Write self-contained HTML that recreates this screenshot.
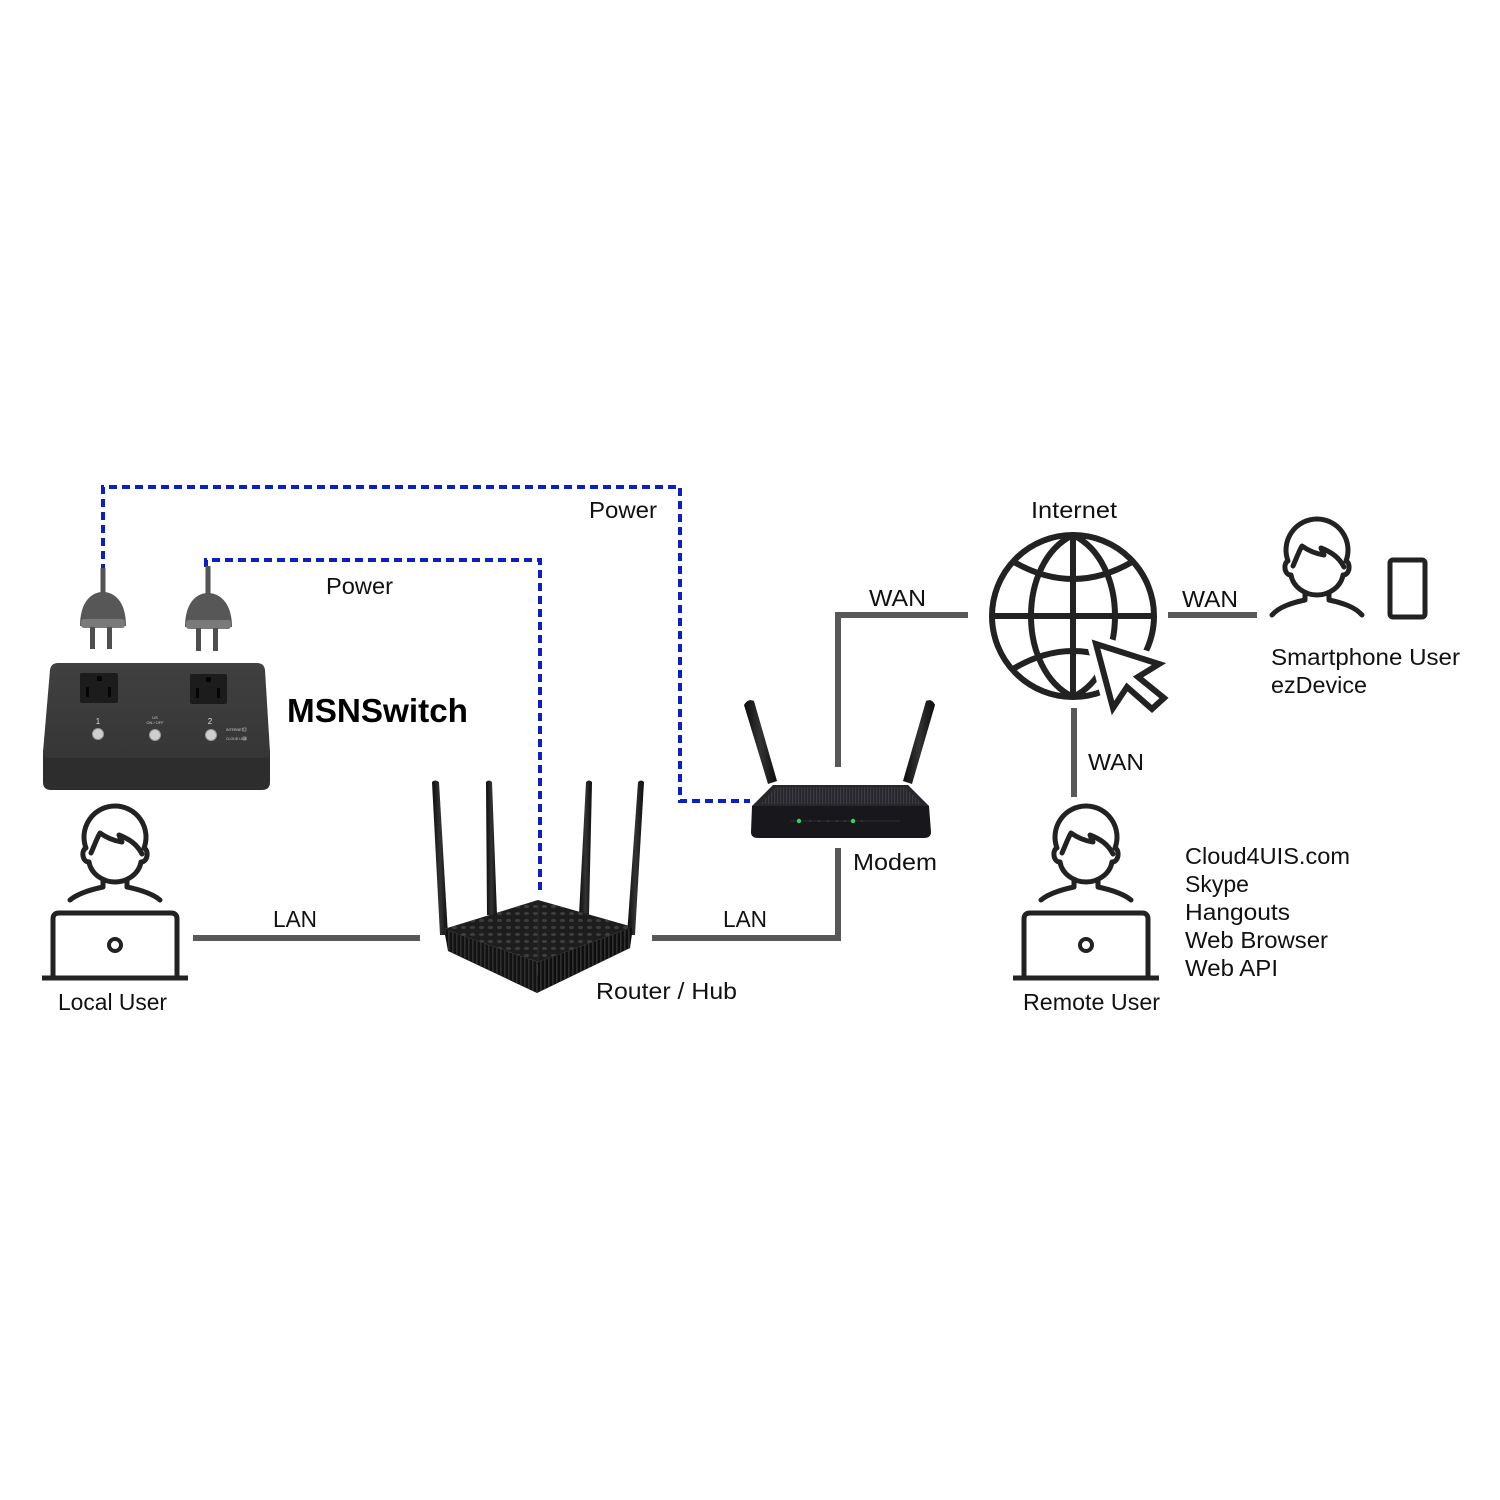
<!DOCTYPE html>
<html>
<head>
<meta charset="utf-8">
<style>
html,body{margin:0;padding:0;background:#fff;}
svg{display:block;}
text{font-family:"Liberation Sans",Arial,sans-serif;fill:#111;}
</style>
</head>
<body>
<svg width="1500" height="1500" viewBox="0 0 1500 1500" xmlns="http://www.w3.org/2000/svg">
<defs>
  <pattern id="dots" x="0" y="0" width="9" height="7" patternUnits="userSpaceOnUse">
    <ellipse cx="4.5" cy="3.5" rx="2.6" ry="1.6" fill="#3d3d3d"/>
  </pattern>
  <pattern id="ribs" x="0" y="0" width="4" height="10" patternUnits="userSpaceOnUse">
    <rect x="0" y="0" width="1.6" height="10" fill="#2e2e2e"/>
  </pattern>
  <pattern id="mribs" x="0" y="0" width="3" height="10" patternUnits="userSpaceOnUse">
    <rect x="0" y="0" width="1.2" height="10" fill="#3a3a40"/>
  </pattern>
  <linearGradient id="antg" x1="0" x2="1" y1="0" y2="0">
    <stop offset="0" stop-color="#0c0c0c"/>
    <stop offset="0.5" stop-color="#333"/>
    <stop offset="1" stop-color="#0c0c0c"/>
  </linearGradient>
  <linearGradient id="boxtop" x1="0" x2="0" y1="0" y2="1">
    <stop offset="0" stop-color="#404040"/>
    <stop offset="1" stop-color="#363636"/>
  </linearGradient>
</defs>

<!-- Blue dashed power lines -->
<path d="M103,572 V487 H680 V801 H750" fill="none" stroke="#0b1fc2" stroke-width="4" stroke-dasharray="8 5"/>
<path d="M206,567 V560 H540 V892" fill="none" stroke="#0b1fc2" stroke-width="4" stroke-dasharray="8 5"/>

<!-- Gray connectors -->
<g stroke="#585858" stroke-width="6" fill="none">
  <path d="M193,938 H420"/>
  <path d="M652,938 H838 V848"/>
  <path d="M838,767 V615 H968"/>
  <path d="M1168,615 H1257"/>
  <path d="M1074,708 V797"/>
</g>

<!-- Plugs -->
<g>
  <line x1="103" y1="568" x2="103" y2="598" stroke="#555" stroke-width="5"/>
  <path d="M80,626 C80,601 92,592 103,592 C114,592 126,601 126,626 Z" fill="#575757"/>
  <rect x="81" y="619" width="44" height="9" rx="3" fill="#7a7a7a"/>
  <rect x="90" y="627" width="5" height="22" fill="#4f4f4f"/>
  <rect x="107" y="627" width="5" height="22" fill="#4f4f4f"/>

  <line x1="208" y1="566" x2="208" y2="598" stroke="#555" stroke-width="5"/>
  <path d="M185,627 C185,602 197,593 208,593 C219,593 232,602 232,627 Z" fill="#575757"/>
  <rect x="186" y="620" width="45" height="9" rx="3" fill="#7a7a7a"/>
  <rect x="196" y="628" width="5" height="23" fill="#4f4f4f"/>
  <rect x="213" y="628" width="5" height="23" fill="#4f4f4f"/>
</g>

<!-- MSNSwitch box -->
<g>
  <path d="M43,750 L270,750 L270,782 Q270,790 262,790 H51 Q43,790 43,782 Z" fill="#2d2d2d"/>
  <path d="M58,663 H257 Q264,663 265,670 L270,752 Q270,758 263,758 H50 Q43,758 43,752 L50,670 Q51,663 58,663 Z" fill="url(#boxtop)"/>
  <rect x="80" y="673" width="38" height="30" rx="2" fill="#1c1c1c"/>
  <rect x="97" y="676" width="5" height="5" rx="1" fill="#050505"/>
  <rect x="86" y="687" width="3" height="10" fill="#050505"/>
  <rect x="108" y="687" width="3" height="10" fill="#050505"/>
  <rect x="190" y="674" width="37" height="30" rx="2" fill="#1c1c1c"/>
  <rect x="206" y="677" width="5" height="5" rx="1" fill="#050505"/>
  <rect x="196" y="688" width="3" height="10" fill="#050505"/>
  <rect x="217" y="688" width="3" height="10" fill="#050505"/>
  <text x="98" y="724" font-size="8" text-anchor="middle" style="fill:#ddd">1</text>
  <text x="210" y="724" font-size="8" text-anchor="middle" style="fill:#ddd">2</text>
  <text x="155" y="719" font-size="4" text-anchor="middle" style="fill:#ccc">US</text>
  <text x="155" y="724" font-size="4" text-anchor="middle" style="fill:#ccc">ON / OFF</text>
  <circle cx="98" cy="734" r="5.5" fill="#cfcfcf" stroke="#999" stroke-width="1"/>
  <circle cx="155" cy="735" r="5.5" fill="#cfcfcf" stroke="#999" stroke-width="1"/>
  <circle cx="211" cy="735" r="5.5" fill="#cfcfcf" stroke="#999" stroke-width="1"/>
  <text x="226" y="731" font-size="3.5" style="fill:#ccc">INTERNET</text>
  <text x="226" y="740" font-size="3.5" style="fill:#ccc">CLOUD LINK</text>
  <rect x="243" y="728" width="3" height="3" fill="none" stroke="#aaa" stroke-width="0.6"/>
  <rect x="243" y="737" width="3" height="3" fill="none" stroke="#aaa" stroke-width="0.6"/>
</g>
<text x="287" y="722" font-size="33" font-weight="bold" textLength="181" lengthAdjust="spacingAndGlyphs" style="fill:#000">MSNSwitch</text>

<!-- Router / Hub -->
<g>
  <path d="M432,782 Q435,779 439,782 L448,935 L440,935 Z" fill="url(#antg)"/>
  <path d="M486,782 Q489,779 492,782 L497,915 L487,915 Z" fill="url(#antg)"/>
  <path d="M586,782 Q589,779 592,782 L589,915 L579,915 Z" fill="url(#antg)"/>
  <path d="M638,782 Q641,779 644,782 L635,935 L627,935 Z" fill="url(#antg)"/>
  <!-- side faces -->
  <path d="M444,929 L538,962 L537,993 L448,951 Z" fill="#121212"/>
  <path d="M444,929 L538,962 L537,993 L448,951 Z" fill="url(#ribs)"/>
  <path d="M633,927 L538,962 L537,993 L630,948 Z" fill="#0f0f0f"/>
  <path d="M633,927 L538,962 L537,993 L630,948 Z" fill="url(#ribs)"/>
  <!-- top face -->
  <path d="M444,929 L538,900 L633,927 L538,962 Z" fill="#1d1d1d"/>
  <path d="M444,929 L538,900 L633,927 L538,962 Z" fill="url(#dots)"/>
  <line x1="538" y1="903" x2="538" y2="960" stroke="#2a2a2a" stroke-width="1"/>
</g>

<!-- Modem -->
<g>
  <path d="M744,705 Q748,698 754,701 L777,781 L768,784 Z" fill="url(#antg)"/>
  <path d="M926,701 Q932,698 935,705 L912,784 L903,781 Z" fill="url(#antg)"/>
  <path d="M752,806 L929,806 L931,832 Q931,838 924,838 H758 Q751,838 751,832 Z" fill="#18181c"/>
  <path d="M773,785 H908 L929,806 H752 Z" fill="#26262b"/>
  <path d="M777,787 H905 L922,804 H760 Z" fill="url(#mribs)"/>
  <line x1="790" y1="821" x2="900" y2="821" stroke="#2c2c32" stroke-width="1"/>
  <circle cx="799" cy="821" r="2.2" fill="#35d060"/>
  <circle cx="853" cy="821" r="2.2" fill="#35d060"/>
  <g fill="#3a3a40">
    <circle cx="810" cy="821" r="1"/><circle cx="819" cy="821" r="1"/><circle cx="828" cy="821" r="1"/>
    <circle cx="837" cy="821" r="1"/><circle cx="845" cy="821" r="1"/><circle cx="862" cy="821" r="1"/>
  </g>
</g>

<!-- Globe -->
<g fill="none" stroke="#222" stroke-width="6">
  <circle cx="1073" cy="616" r="81"/>
  <path d="M1073,535 C1017,562 1017,670 1073,697"/>
  <path d="M1073,535 C1129,562 1129,670 1073,697"/>
  <line x1="1073" y1="535" x2="1073" y2="697"/>
  <line x1="992" y1="616" x2="1154" y2="616"/>
  <path d="M1014,562 Q1073,596 1132,562"/>
  <path d="M1013,669 Q1073,633 1133,669"/>
</g>
<path d="M1096,644 L1159,664 L1138,677 L1164,698 L1152,709 L1127,687 L1113,708 Z" fill="#fff" stroke="#fff" stroke-width="18" stroke-linejoin="round"/>
<path d="M1096,644 L1159,664 L1138,677 L1164,698 L1152,709 L1127,687 L1113,708 Z" fill="#fff" stroke="#222" stroke-width="6" stroke-linejoin="miter"/>

<!-- Person icons -->
<g fill="none" stroke="#222" stroke-width="5" stroke-linecap="round" stroke-linejoin="round">
  <g transform="translate(115,836)">
    <path d="M-29,12 A31,31 0 1 1 29,12 C34,14 33,26 26,26 C24,38 12,46 0,46 C-12,46 -24,38 -26,26 C-33,26 -34,14 -29,12 Z"/>
    <path d="M-24,17 C-20,8 -18,2 -15,-3 C-8,2 0,5 7,6 L4,-1 C14,3 22,8 27,18"/>
    <path d="M-12,45 V51 C-26,54 -38,58 -45,64 M12,45 V51 C26,54 38,58 45,64"/>
    <path d="M-62,141 V83 Q-62,77 -56,77 H56 Q62,77 62,83 V141"/>
    <path d="M-73,142 H73" stroke-linecap="butt"/>
    <circle cx="0" cy="109" r="6" stroke-width="4"/>
  </g>
  <g transform="translate(1086,836)">
    <path d="M-29,12 A31,31 0 1 1 29,12 C34,14 33,26 26,26 C24,38 12,46 0,46 C-12,46 -24,38 -26,26 C-33,26 -34,14 -29,12 Z"/>
    <path d="M-24,17 C-20,8 -18,2 -15,-3 C-8,2 0,5 7,6 L4,-1 C14,3 22,8 27,18"/>
    <path d="M-12,45 V51 C-26,54 -38,58 -45,64 M12,45 V51 C26,54 38,58 45,64"/>
    <path d="M-62,141 V83 Q-62,77 -56,77 H56 Q62,77 62,83 V141"/>
    <path d="M-73,142 H73" stroke-linecap="butt"/>
    <circle cx="0" cy="109" r="6" stroke-width="4"/>
  </g>
  <g transform="translate(1317,549)">
    <path d="M-29,12 A31,31 0 1 1 29,12 C34,14 33,26 26,26 C24,38 12,46 0,46 C-12,46 -24,38 -26,26 C-33,26 -34,14 -29,12 Z"/>
    <path d="M-24,17 C-20,8 -18,2 -15,-3 C-8,2 0,5 7,6 L4,-1 C14,3 22,8 27,18"/>
    <path d="M-12,45 V51 C-26,54 -38,58 -45,66 M12,45 V51 C26,54 38,58 45,66"/>
  </g>
  <rect x="1390" y="560" width="35" height="57" rx="3"/>
</g>

<!-- Labels -->
<g font-size="23">
  <text x="589" y="518" textLength="68" lengthAdjust="spacingAndGlyphs">Power</text>
  <text x="326" y="594" textLength="67" lengthAdjust="spacingAndGlyphs">Power</text>
  <text x="273" y="927" textLength="44" lengthAdjust="spacingAndGlyphs">LAN</text>
  <text x="723" y="927" textLength="44" lengthAdjust="spacingAndGlyphs">LAN</text>
  <text x="58" y="1010" textLength="109" lengthAdjust="spacingAndGlyphs">Local User</text>
  <text x="596" y="999" textLength="141" lengthAdjust="spacingAndGlyphs">Router / Hub</text>
  <text x="853" y="870" textLength="84" lengthAdjust="spacingAndGlyphs">Modem</text>
  <text x="869" y="606" textLength="57" lengthAdjust="spacingAndGlyphs">WAN</text>
  <text x="1031" y="518" textLength="86" lengthAdjust="spacingAndGlyphs">Internet</text>
  <text x="1182" y="607" textLength="56" lengthAdjust="spacingAndGlyphs">WAN</text>
  <text x="1271" y="665" textLength="189" lengthAdjust="spacingAndGlyphs">Smartphone User</text>
  <text x="1271" y="693" textLength="96" lengthAdjust="spacingAndGlyphs">ezDevice</text>
  <text x="1088" y="770" textLength="56" lengthAdjust="spacingAndGlyphs">WAN</text>
  <text x="1185" y="864" textLength="165" lengthAdjust="spacingAndGlyphs">Cloud4UIS.com</text>
  <text x="1185" y="892" textLength="64" lengthAdjust="spacingAndGlyphs">Skype</text>
  <text x="1185" y="920" textLength="105" lengthAdjust="spacingAndGlyphs">Hangouts</text>
  <text x="1185" y="948" textLength="143" lengthAdjust="spacingAndGlyphs">Web Browser</text>
  <text x="1185" y="976" textLength="93" lengthAdjust="spacingAndGlyphs">Web API</text>
  <text x="1023" y="1010" textLength="137" lengthAdjust="spacingAndGlyphs">Remote User</text>
</g>
</svg>
</body>
</html>
